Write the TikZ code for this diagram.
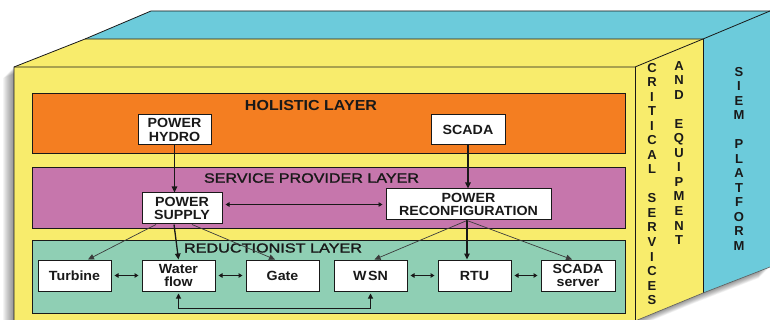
\documentclass[tikz,border=0pt]{standalone}
\usepackage{fontspec}
\usepackage{graphicx}
\setmainfont{Liberation Sans}
\newfontfamily\labfont{Liberation Sans}[FakeStretch=1.07]
\newfontfamily\midfont{Liberation Sans}[FakeStretch=1.07,FakeBold=1.5]
\usetikzlibrary{arrows.meta}
\definecolor{ylw}{RGB}{248,236,108}
\definecolor{cyn}{RGB}{108,203,219}
\definecolor{org}{RGB}{244,126,33}
\definecolor{prp}{RGB}{198,118,172}
\definecolor{grn}{RGB}{143,207,180}
\definecolor{ink}{RGB}{25,25,25}
\begin{document}
\begin{tikzpicture}[x=1pt,y=-1pt,
  bx/.style={draw=ink,fill=white,line width=1pt,inner sep=0pt,align=center,text=ink,
    font=\labfont\bfseries\fontsize{13.3}{13.5}\selectfont},
  lowbox/.style={bx,minimum width=73pt,minimum height=31pt},
  layerbox/.style={draw=ink,line width=0.9pt},
  title/.style={inner sep=0pt,anchor=base,text=ink},
  vl/.style={inner sep=0pt,anchor=base,text=ink,font=\bfseries\fontsize{13}{14}\selectfont},
  edgeline/.style={draw=ink,line width=0.8pt},
  thickarrow/.style={ink,line width=1.3pt,-{Triangle[length=6pt,width=5.5pt]}},
  thinarrow/.style={ink!85,line width=0.7pt,-{Triangle[length=6pt,width=5.5pt]}},
  dbl/.style={ink,line width=1pt,{Triangle[length=4pt,width=4.5pt]}-{Triangle[length=4pt,width=4.5pt]},shorten <=3pt,shorten >=3pt}
]
\fill[white] (0,0) rectangle (770,320);
\useasboundingbox (0,0) rectangle (770,320);
% shadow
\foreach \d in {1,...,11}{
  \begin{scope}[shift={(-\d,\d)}]
    \fill[black,opacity=0.045] (14,67)--(85,39)--(151,11)--(770,11)--(770,267)--(703,293)--(635,321)--(14,321)--cycle;
  \end{scope}
}
% cyan box
\fill[cyn] (85,39)--(151,11)--(770,11)--(770,267)--(703,293)--(703,39)--cycle;
% yellow box
\fill[ylw] (14,67)--(85,39)--(703,39)--(703,293)--(635,321)--(14,321)--cycle;
\draw[edgeline] (14,321)--(14,67)--(85,39)--(151,11)--(770,11);
\draw[edgeline] (85,39)--(703,39)--(770,11);
\draw[edgeline] (14,67)--(635,67)--(703,39);
\draw[edgeline] (635,67)--(635,321);
\draw[edgeline] (703,39)--(703,293);
\draw[ink!70,line width=0.6pt] (635,321)--(703,293)--(770,267);
% layers
\draw[layerbox,fill=org] (32,93) rectangle (625,153);
\draw[layerbox,fill=prp] (32,167) rectangle (625,228);
\draw[layerbox,fill=grn] (32,240) rectangle (625,313);
\node[title,font=\labfont\bfseries\fontsize{14.5}{15}\selectfont] (holt) at (311,110.5) {\resizebox{132pt}{\height}{HOLISTIC LAYER}};
\node[title,font=\midfont\fontsize{13.5}{14}\selectfont] (servt) at (311.5,182.7) {\resizebox{215pt}{\height}{SERVICE PROVIDER LAYER}};
\node[title,font=\midfont\fontsize{13}{14}\selectfont] (redt) at (273,252.5) {\resizebox{178pt}{\height}{REDUCTIONIST LAYER}};
% boxes
\node[bx,minimum width=73pt,minimum height=30pt] (hydro) at (174.5,130) {POWER\\HYDRO};
\node[bx,minimum width=74pt,minimum height=30pt] (scada) at (468,130) {SCADA};
\node[bx,minimum width=80pt,minimum height=31pt] (supply) at (182,208.5) {POWER\\SUPPLY};
\node[bx,minimum width=165pt,minimum height=31pt] (reconf) at (468.5,204.5) {POWER\\RECONFIGURATION};
\node[lowbox] (turbine) at (74.5,275.5) {Turbine};
\node[lowbox] (water) at (178.5,275.5) {Water\\flow};
\node[lowbox] (gate) at (282.5,275.5) {Gate};
\node[lowbox] (wsn) at (370.5,275.5) {W\kern1.5pt SN};
\node[lowbox] (rtu) at (474.5,275.5) {RTU};
\node[lowbox,minimum width=74pt] (ss) at (578,275.5) {SCADA\\server};
% connectors
\draw[thickarrow] (hydro.south) -- (hydro.south |- supply.north);
\draw[thickarrow] (scada.south) -- (scada.south |- reconf.north);
\draw[dbl,line width=0.8pt] (supply.east |- reconf.west) -- (reconf.west);
\coordinate (sfa) at ([xshift=-26pt]supply.south);
\coordinate (sfb) at ([xshift=-8pt]supply.south);
\coordinate (sfc) at ([xshift=10pt]supply.south);
\coordinate (rfo) at ([xshift=-1.5pt]reconf.south);
\draw[thinarrow] (sfa) -- ([xshift=13.5pt]turbine.north);
\draw[thickarrow] (sfb) -- (water.north);
\draw[thinarrow] (sfc) -- ([xshift=-7.5pt]gate.north);
\draw[thinarrow] (rfo) -- ([xshift=4pt]wsn.north);
\draw[thickarrow] (rfo) -- (rfo |- rtu.north);
\draw[thinarrow] (rfo) -- ([xshift=-6pt]ss.north);
\draw[dbl] (turbine.east) -- (water.west);
\draw[dbl] (water.east) -- (gate.west);
\draw[dbl] (wsn.east) -- (rtu.west);
\draw[dbl] (rtu.east) -- (ss.west);
\draw[ink,line width=1pt,{Triangle[length=5pt,width=5pt]}-{Triangle[length=5pt,width=5pt]},shorten <=2pt,shorten >=2pt] (water.south) -- ++(0,17) -| (wsn.south);
% vertical texts
\foreach \ch [count=\i from 0] in {C,R,I,T,I,C,A,L}
  \node[vl] (cs\i) at (652,{72.5+14.5*\i}) {\ch};
\foreach \ch [count=\i from 9] in {S,E,R,V,I,C,E,S}
  \node[vl] (cs\i) at (652,{72.5+14.5*\i}) {\ch};
\foreach \ch [count=\i from 0] in {A,N,D}
  \node[vl] (ae\i) at (679,{70.5+14.5*\i}) {\ch};
\foreach \ch [count=\i from 4] in {E,Q,U,I,P,M,E,N,T}
  \node[vl] (ae\i) at (679,{70.5+14.5*\i}) {\ch};
\foreach \ch [count=\i from 0] in {S,I,E,M}
  \node[vl] (sp\i) at (739,{76.5+14.5*\i}) {\ch};
\foreach \ch [count=\i from 5] in {P,L,A,T,F,O,R,M}
  \node[vl] (sp\i) at (739,{76.5+14.5*\i}) {\ch};
\end{tikzpicture}
\end{document}
